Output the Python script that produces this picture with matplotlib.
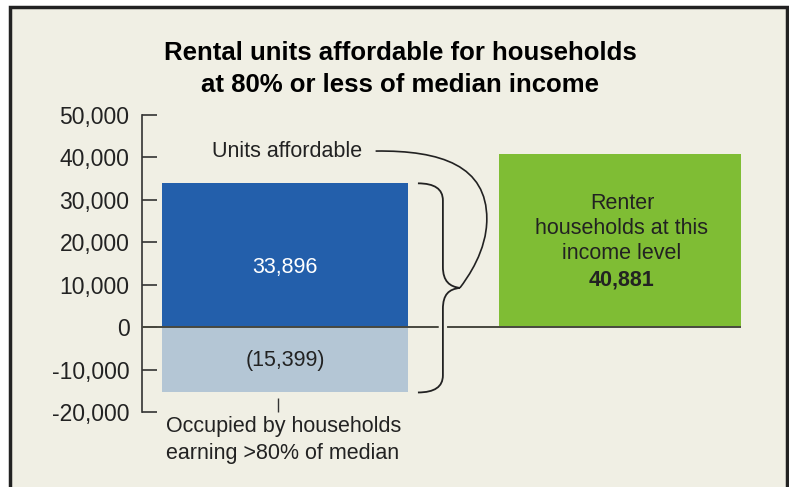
import matplotlib.pyplot as plt
from matplotlib.patches import Rectangle, PathPatch
from matplotlib.path import Path
import matplotlib.patheffects as pe
from matplotlib.ticker import FuncFormatter

plt.rcParams['font.family'] = ['Liberation Sans', 'DejaVu Sans']

# data
title = "Rental units affordable for households\nat 80% or less of median income"
affordable = 33896
occupied_higher = -15399
renters = 40881
y_ticks = [-20000, -10000, 0, 10000, 20000, 30000, 40000, 50000]

bg = '#f0efe4'
blue = '#235fab'
light = '#b4c6d5'
green = '#7fbd34'
ink = '#222222'

fig = plt.figure(figsize=(7.89, 4.87), dpi=100)
fig.patch.set_facecolor('white')

# frame round the chart (no bottom edge)
frame = Rectangle((10 / 789, -0.05), 777 / 789, (487 - 7) / 487 + 0.05,
                  transform=fig.transFigure, facecolor=bg, edgecolor=ink,
                  linewidth=2.5, zorder=-10)
fig.patches.append(frame)

ax = fig.add_axes([142 / 789, 1 - 412 / 487, 599 / 789, 297 / 487])
ax.set_facecolor('none')

# bar positions
x_left, x_right, width = 0.716, 2.394, 1.232

ax.bar(x_left, affordable, width=width, color=blue, zorder=2)
ax.bar(x_left, occupied_higher, width=width, color=light, zorder=2)
ax.bar(x_right, renters, width=1.212, color=green, zorder=2)

ax.axhline(0, color='#48483f', linewidth=1.4, zorder=3)

ax.set_xlim(0, 3)
ax.set_ylim(y_ticks[0], y_ticks[-1])
ax.set_yticks(y_ticks)
ax.yaxis.set_major_formatter(FuncFormatter(lambda v, p: f'{int(v):,}'))
ax.tick_params(axis='y', direction='in', length=11, width=1.2, color='#333333',
               labelsize=16.5, pad=9, labelcolor=ink)
ax.set_xticks([x_left - 0.035])
ax.set_xticklabels([''])
ax.tick_params(axis='x', direction='in', length=10, width=1, color='#333333')
for s in ['top', 'right', 'bottom']:
    ax.spines[s].set_visible(False)
ax.spines['left'].set_color('#333333')
ax.spines['left'].set_linewidth(1.2)

fs = 15.5

# value labels
ax.text(x_left, affordable / 2 - 2800, f'{affordable:,}', color='white',
        ha='center', va='center', fontsize=fs, zorder=4)
ax.text(x_left, occupied_higher / 2 - 100, f'({abs(occupied_higher):,})', color=ink,
        ha='center', va='center', fontsize=fs, zorder=4)
ax.text(x_right + 0.01, renters / 2 + 2800,
        'Renter\nhouseholds at this\nincome level', color=ink,
        ha='center', va='center', fontsize=fs, linespacing=1.27, zorder=4)
ax.text(x_right + 0.01, renters / 2 - 9400, f'{renters:,}', color=ink,
        ha='center', va='center', fontsize=fs, fontweight='bold', zorder=4)

# brace spanning both parts of the left bar
bar_edge = x_left + width / 2
bx0 = bar_edge + 0.05
bx1 = bar_edge + 0.175
tip_x = bar_edge + 0.26
mid = (affordable + occupied_higher) / 2
r = 4000
verts = [
    (bx0, affordable), (bx1, affordable), (bx1, affordable - r),
    (bx1, mid + 5000), (bx1, mid + 1500), (tip_x - 0.05, mid + 300), (tip_x, mid),
    (bx1 + 0.03, mid - 300), (bx1, mid - 1500), (bx1, mid - 5000),
    (bx1, occupied_higher + r), (bx1, occupied_higher), (bx0, occupied_higher),
]
codes = [Path.MOVETO, Path.CURVE3, Path.CURVE3,
         Path.LINETO, Path.CURVE4, Path.CURVE4, Path.CURVE4,
         Path.CURVE4, Path.CURVE4, Path.CURVE4,
         Path.LINETO, Path.CURVE3, Path.CURVE3]
brace = PathPatch(Path(verts, codes), facecolor='none', edgecolor=ink,
                  linewidth=1.3, zorder=5,
                  path_effects=[pe.Stroke(linewidth=6, foreground=bg), pe.Normal()])
ax.add_patch(brace)

# leader line from "Units affordable" to the brace tip
lx0 = 1.17
ly0 = 41500
far_x = bar_edge + 0.395
lead = [
    (lx0, ly0), (1.5, ly0 + 200), (far_x, 38000), (far_x, 25500),
    (far_x, 18000), (tip_x + 0.04, mid + 2500), (tip_x, mid),
]
lead_codes = [Path.MOVETO, Path.CURVE4, Path.CURVE4, Path.CURVE4,
              Path.CURVE4, Path.CURVE4, Path.CURVE4]
ax.add_patch(PathPatch(Path(lead, lead_codes), facecolor='none', edgecolor=ink,
                       linewidth=1.2, zorder=5))
ax.text(lx0 - 0.07, ly0, 'Units affordable', ha='right', va='center',
        fontsize=fs, color=ink, zorder=4)

# note under the left bar
ax.text(x_left - width / 2 + 0.02, -0.015, 'Occupied by households\nearning >80% of median',
        transform=ax.get_xaxis_transform(), ha='left', va='top',
        fontsize=fs, color=ink, linespacing=1.35)

fig.text(400 / 789, 1 - 69 / 487, title, ha='center', va='center',
         fontsize=18.5, fontweight='bold', color='black', linespacing=1.38)

fig.savefig('out.png', dpi=100, facecolor=fig.get_facecolor())
